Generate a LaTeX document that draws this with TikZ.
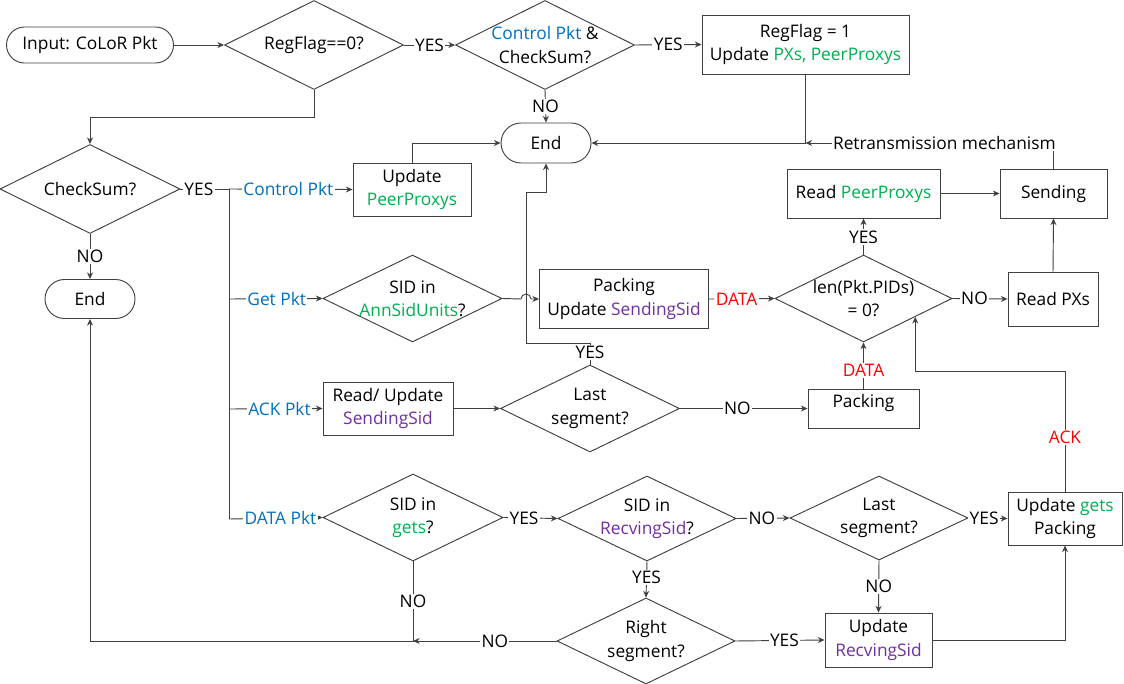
\documentclass[tikz,border=0pt]{standalone}
\usepackage{fontspec}
\setmainfont{Open Sans}
\usetikzlibrary{shapes.geometric,arrows.meta,calc}
\definecolor{cblue}{HTML}{0070C0}
\definecolor{cgreen}{HTML}{00B050}
\definecolor{cpurple}{HTML}{7030A0}
\definecolor{cred}{HTML}{FF0000}
\definecolor{cline}{HTML}{404040}
\begin{document}
\begin{tikzpicture}[x=0.75pt,y=-0.75pt,
  font=\fontsize{13}{17.5}\selectfont,
  box/.style={draw=cline, line width=0.7pt, rectangle, align=center, inner sep=1pt},
  dia/.style={draw=cline, line width=0.7pt, diamond, aspect=2, inner sep=-3pt, align=center},
  term/.style={draw=cline, line width=0.7pt, rectangle, align=center},
  conn/.style={draw=cline, line width=0.7pt},
  arr/.style={conn, -{Stealth[length=5pt,width=4.5pt]}},
  lbl/.style={fill=white, inner sep=1pt},
]
\fill[white] (0,0) rectangle (1124,684);
\useasboundingbox (0,0) rectangle (1124,684);

% nodes
\node[term, rounded corners=13.5pt, minimum width=125.25pt, minimum height=27pt] (in) at (90,45) {Input: CoLoR Pkt};
\node[dia, minimum width=134.25pt, minimum height=66.75pt] (d1) at (314,45) {RegFlag==0?};
\node[dia, minimum width=134.25pt, minimum height=66.75pt] (d2) at (545,45) {{\color{cblue}Control Pkt} \&\\CheckSum?};
\node[box, minimum width=155.25pt, minimum height=44.25pt] (b1) at (805.5,44.5) {RegFlag = 1\\Update {\color{cgreen}PXs, PeerProxys}};
\node[term, rounded corners=15pt, minimum width=67.5pt, minimum height=30pt] (end1) at (546,143) {End};
\node[dia, minimum width=135pt, minimum height=66.75pt] (d3) at (90,189) {CheckSum?};
\node[box, minimum width=88.5pt, minimum height=39.75pt] (b2) at (412,189.5) {Update\\{\color{cgreen}PeerProxys}};
\node[term, rounded corners=14.6pt, minimum width=67.5pt, minimum height=29.25pt] (end2) at (90,299) {End};
\node[dia, minimum width=134.25pt, minimum height=65.25pt] (d4) at (412.5,298.5) {SID in\\{\color{cgreen}AnnSidUnits}?};
\node[box, minimum width=126.75pt, minimum height=44.25pt] (b3) at (624,299) {Packing\\Update {\color{cpurple}SendingSid}};
\node[dia, minimum width=132.75pt, minimum height=65.25pt] (d5) at (863.5,298.5) {len(Pkt.PIDs)\\= 0?};
\node[box, minimum width=67.5pt, minimum height=40.5pt] (b4) at (1053,299) {Read PXs};
\node[box, minimum width=114.75pt, minimum height=36.75pt] (b5) at (863.5,193.5) {Read {\color{cgreen}PeerProxys}};
\node[box, minimum width=80.25pt, minimum height=36.75pt] (b6) at (1053.5,193.5) {Sending};
\node[box, minimum width=97.5pt, minimum height=39.75pt] (b7) at (388,408.5) {Read/ Update\\{\color{cpurple}SendingSid}};
\node[dia, minimum width=134.25pt, minimum height=65.25pt] (d6) at (590,408.5) {Last\\segment?};
\node[box, minimum width=83.25pt, minimum height=29.25pt, text depth=11pt] (b8) at (863.5,408.5) {Packing};
\node[dia, minimum width=135pt, minimum height=65.25pt] (d7) at (413,517.5) {SID in\\{\color{cgreen}gets}?};
\node[dia, minimum width=133.5pt, minimum height=63.75pt] (d8) at (647,518.5) {SID in\\{\color{cpurple}RecvingSid}?};
\node[dia, minimum width=133.5pt, minimum height=63pt] (d9) at (879,518) {Last\\segment?};
\node[box, minimum width=85.5pt, minimum height=39.75pt] (b9) at (1065,518.5) {Update {\color{cgreen}gets}\\Packing};
\node[dia, minimum width=133.5pt, minimum height=64.5pt] (d10) at (646,641) {Right\\segment?};
\node[box, minimum width=80.25pt, minimum height=40.5pt] (b10) at (878.5,640) {Update\\{\color{cpurple}RecvingSid}};

% helper coordinates
\coordinate (J) at (229,189);
\coordinate (jg) at (229,299);
\coordinate (ja) at (229,409);
\coordinate (jd) at (229,519);
\coordinate (ackp) at ($(d5.south)!0.582!(d5.east)$);

% connectors, top row
\draw[arr] (in.east) -- (d1.west);
\draw[arr] (d1.east) -- node[lbl]{YES} (d2.west);
\draw[arr] (d2.east) -- node[lbl]{YES} (b1.west);
\draw[arr] (d2.south) -- node[lbl]{NO} (end1.north);
\draw[arr] (b1.south) |- (end1.east);
\draw[arr] (b6.north) |- node[lbl, pos=0.72]{Retransmission mechanism} (b1.south |- end1.east);
\draw[arr] (d1.south) -- ++(0,28) -| (d3.north);

% check sum branch
\draw[conn] (d3.east) -- node[lbl, pos=0.38]{YES} (J);
\draw[arr] (J) -- node[lbl, pos=0.48, text=cblue]{Control Pkt} (b2.west);
\draw[conn] (J) -- (jd);
\draw[arr] (jg) -- node[lbl, pos=0.51, text=cblue]{Get Pkt} (d4.west);
\draw[arr] (ja) -- node[lbl, pos=0.54, text=cblue]{ACK Pkt} (b7.west);
\draw[arr] (jd) -- node[lbl, pos=0.55, text=cblue]{DATA Pkt} (d7.west);
\draw[arr] (b2.north) |- (end1.west);
\draw[arr] (d3.south) -- node[lbl]{NO} (end2.north);

% Get branch
\draw[arr] (d4.east) -- (521,299) arc[start angle=180, end angle=360, radius=5] -- (b3.west);
\draw[arr] (d6.north) -- node[lbl, pos=0.55]{YES} (590,343) -- (526,343) -- (526,192) -- (546,192) -- (end1.south);
\draw[arr] (b3.east) -- node[lbl, pos=0.42, text=cred]{DATA} (d5.west);
\draw[arr] (d5.east) -- node[lbl, pos=0.4]{NO} (b4.west);
\draw[arr] (d5.north) -- node[lbl, pos=0.49]{YES} (b5.south);
\draw[arr] (b5.east) -- (b6.west);
\draw[arr] (b4.north) -- (b6.south);

% ACK branch
\draw[arr] (b7.east) -- (d6.west);
\draw[arr] (d6.east) -- node[lbl, pos=0.45]{NO} (b8.west);
\draw[arr] (b8.north) -- node[lbl, pos=0.4, text=cred]{DATA} (d5.south);
\draw[arr] (b9.north) -- node[lbl, pos=0.45, text=cred]{ACK} (b9.north |- 0,371) -| (ackp);

% DATA branch
\draw[arr] (d7.east) -- node[lbl, pos=0.38]{YES} (d8.west);
\draw[arr] (d8.east) -- node[lbl, pos=0.48]{NO} (d9.west);
\draw[arr] (d9.east) -- node[lbl, pos=0.4]{YES} (b9.west);
\draw[arr] (d8.south) -- node[lbl, pos=0.45]{YES} (d10.north);
\draw[arr] (d9.south) -- node[lbl, pos=0.5]{NO} (b10.north);
\draw[arr] (d10.east) -- node[lbl, pos=0.55]{YES} (b10.west);
\draw[arr] (b10.east) -| (b9.south);
\draw[arr] (d10.west) -- node[lbl, pos=0.43]{NO} (d7.south |- d10.west);
\draw[arr] (d7.south) -- node[lbl, pos=0.5]{NO} (d7.south |- d10.west) -| (end2.south);
\end{tikzpicture}
\end{document}
